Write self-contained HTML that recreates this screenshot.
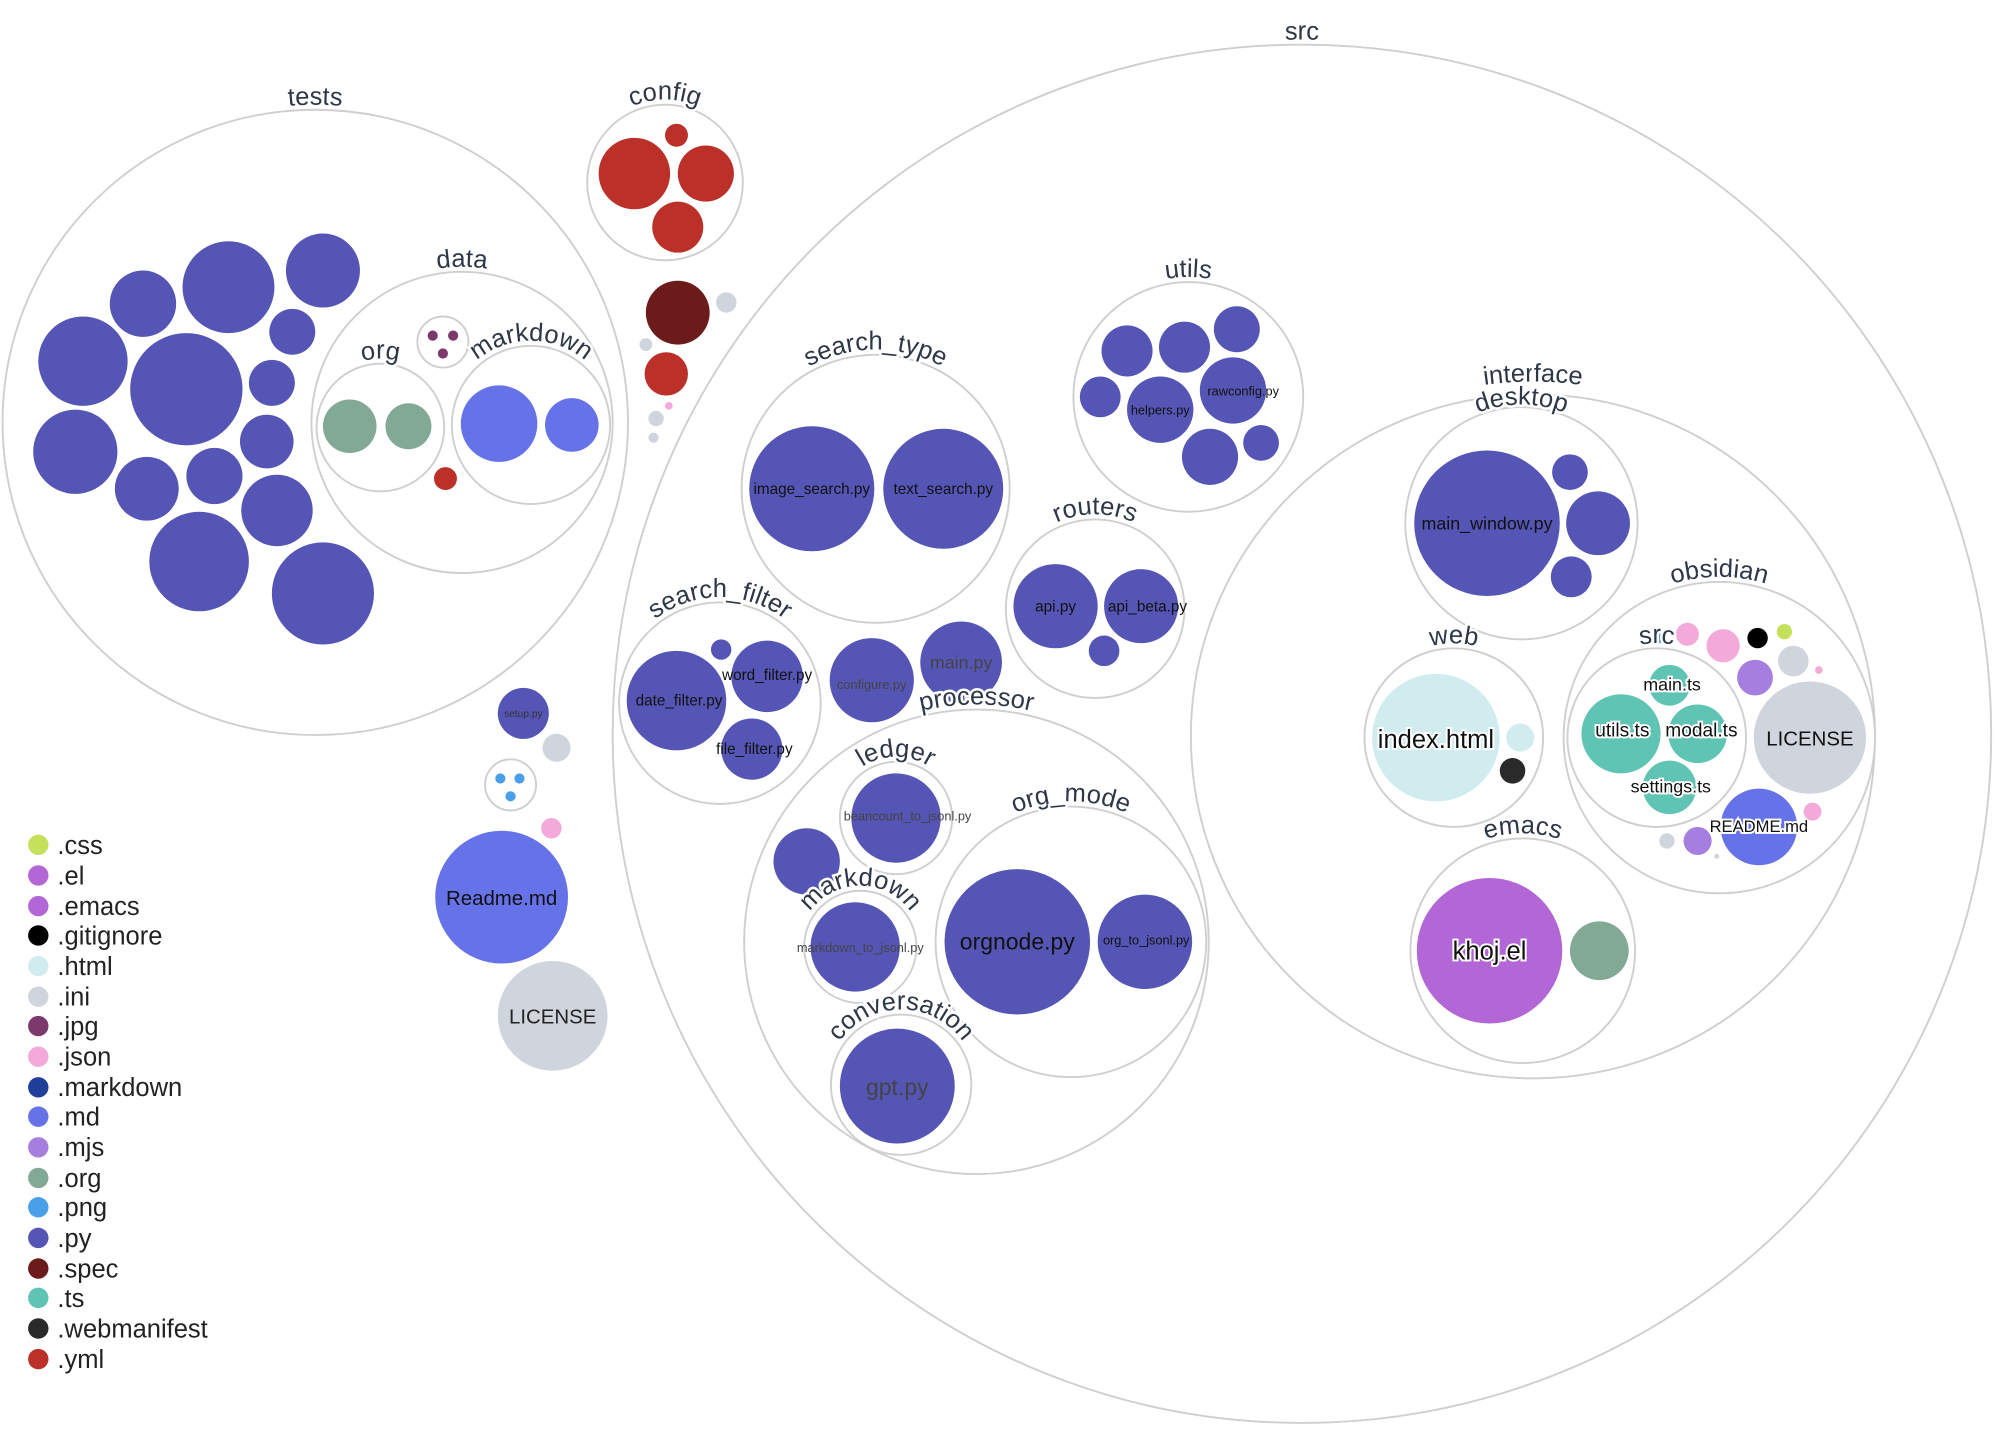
<!DOCTYPE html>
<html><head><meta charset="utf-8"><style>
html,body{margin:0;padding:0;background:#fff;}
svg{display:block;}
text{font-family:"Liberation Sans",sans-serif;}
.o{fill:none;stroke:#cfcfcf;stroke-width:1.5;}
.lab{font-size:20px;fill:#2d3748;stroke:#fff;stroke-width:4;paint-order:stroke;}
.py{fill:#5555b5}.md{fill:#6672e8}.org{fill:#82a896}.yml{fill:#bb3129}.ini{fill:#d0d5dd}.ts{fill:#5fc4b4}
.fl{font-size:12px;fill:#111;text-anchor:middle;}
</style></head><body>
<svg width="1995" height="1451" viewBox="0 0 1563 1137" preserveAspectRatio="none">
<defs>
<path id="a_src" d="M 476,575 A 544,544 0 0 1 1564,575"/>
<path id="a_tests" d="M -2,331 A 249,249 0 0 1 496,331"/>
<path id="a_config" d="M 456,143 A 65,65 0 0 1 586,143"/>
<path id="a_data" d="M 240,331 A 122,122 0 0 1 484,331"/>
<path id="a_org" d="M 244,335 A 54,54 0 0 1 352,335"/>
<path id="a_mdd" d="M 350,333 A 66,66 0 0 1 482,333"/>
<path id="a_st" d="M 577,383 A 109,109 0 0 1 795,383"/>
<path id="a_utils" d="M 837,311 A 94,94 0 0 1 1025,311"/>
<path id="a_routers" d="M 784,477 A 74,74 0 0 1 932,477"/>
<path id="a_sf" d="M 481,551 A 83,83 0 0 1 647,551"/>
<path id="a_proc" d="M 579,738 A 186,186 0 0 1 951,738"/>
<path id="a_ledger" d="M 654,641 A 48,48 0 0 1 750,641"/>
<path id="a_mdp" d="M 626,742 A 48,48 0 0 1 722,742"/>
<path id="a_om" d="M 729,738 A 110,110 0 0 1 949,738"/>
<path id="a_conv" d="M 647,850 A 59,59 0 0 1 765,850"/>
<path id="a_int" d="M 923,577 A 278,278 0 0 1 1479,577"/>
<path id="a_desk" d="M 1099,410 A 93,93 0 0 1 1285,410"/>
<path id="a_web" d="M 1065,578 A 74,74 0 0 1 1213,578"/>
<path id="a_obs" d="M 1221,578 A 126,126 0 0 1 1473,578"/>
<path id="a_osrc" d="M 1224,578 A 74,74 0 0 1 1372,578"/>
<path id="a_emacs" d="M 1101,745 A 92,92 0 0 1 1285,745"/>
</defs>
<circle class="o" cx="1020" cy="575" r="540"/>
<circle class="o" cx="247" cy="331" r="245"/>
<circle class="o" cx="521" cy="143" r="61"/>
<circle class="o" cx="362" cy="331" r="118"/>
<circle class="o" cx="298" cy="335" r="50"/>
<circle class="o" cx="416" cy="333" r="62"/>
<circle class="o" cx="347" cy="268" r="20"/>
<circle class="o" cx="400" cy="615" r="20"/>
<circle class="o" cx="686" cy="383" r="105"/>
<circle class="o" cx="931" cy="311" r="90"/>
<circle class="o" cx="858" cy="477" r="70"/>
<circle class="o" cx="564" cy="551" r="79"/>
<circle class="o" cx="765" cy="738" r="182"/>
<circle class="o" cx="702" cy="641" r="44"/>
<circle class="o" cx="674" cy="742" r="44"/>
<circle class="o" cx="839" cy="738" r="106"/>
<circle class="o" cx="706" cy="850" r="55"/>
<circle class="o" cx="1201" cy="577" r="268"/>
<circle class="o" cx="1192" cy="410" r="91"/>
<circle class="o" cx="1139" cy="578" r="70"/>
<circle class="o" cx="1347" cy="578" r="122"/>
<circle class="o" cx="1298" cy="578" r="70"/>
<circle class="o" cx="1193" cy="745" r="88"/>
<g class="py">
<circle cx="65" cy="283" r="35"/><circle cx="112" cy="238" r="26"/><circle cx="179" cy="225" r="36"/>
<circle cx="253" cy="212" r="29"/><circle cx="229" cy="260" r="18"/><circle cx="146" cy="305" r="44"/>
<circle cx="213" cy="300" r="18"/><circle cx="59" cy="354" r="33"/><circle cx="115" cy="383" r="25"/>
<circle cx="168" cy="373" r="22"/><circle cx="209" cy="346" r="21"/><circle cx="217" cy="400" r="28"/>
<circle cx="156" cy="440" r="39"/><circle cx="253" cy="465" r="40"/>
</g>
<circle class="org" cx="274" cy="334" r="21"/><circle class="org" cx="320" cy="334" r="18"/>
<circle class="md" cx="391" cy="332" r="30"/><circle class="md" cx="448" cy="333" r="21"/>
<g fill="#7b3a6b"><circle cx="339" cy="263" r="4"/><circle cx="355" cy="263" r="4"/><circle cx="347" cy="277" r="4"/></g>
<circle class="yml" cx="349" cy="375" r="9"/>
<circle class="yml" cx="497" cy="136" r="28"/><circle class="yml" cx="553" cy="136" r="22"/>
<circle class="yml" cx="530" cy="106" r="9"/><circle class="yml" cx="531" cy="178" r="20"/>
<circle fill="#6b1b1a" cx="531" cy="245" r="25"/><circle class="ini" cx="569" cy="237" r="8"/>
<circle class="ini" cx="506" cy="270" r="5"/><circle class="yml" cx="522" cy="293" r="17"/>
<circle fill="#f3a9d9" cx="524" cy="318" r="3"/><circle class="ini" cx="514" cy="328" r="6"/><circle class="ini" cx="512" cy="343" r="4"/>
<circle class="py" cx="410" cy="559" r="20"/><text x="410" y="562" class="fl" style="font-size:8px;fill:#333">setup.py</text>
<circle class="ini" cx="436" cy="586" r="11"/>
<g fill="#4aa0e8"><circle cx="392" cy="610" r="4"/><circle cx="407" cy="610" r="4"/><circle cx="400" cy="624" r="4"/></g>
<circle fill="#f3a9d9" cx="432" cy="649" r="8"/>
<circle class="md" cx="393" cy="703" r="52"/><text x="393" y="709" class="fl" style="font-size:16px">Readme.md</text>
<circle class="ini" cx="433" cy="796" r="43"/><text x="433" y="802" class="fl" style="font-size:16px;fill:#222">LICENSE</text>
<circle class="py" cx="636" cy="383" r="49"/><text x="636" y="387" class="fl">image_search.py</text>
<circle class="py" cx="739" cy="383" r="47"/><text x="739" y="387" class="fl">text_search.py</text>
<g class="py"><circle cx="883" cy="275" r="20"/><circle cx="928" cy="272" r="20"/><circle cx="969" cy="258" r="18"/>
<circle cx="862" cy="311" r="16"/><circle cx="909" cy="321" r="26"/><circle cx="966" cy="306" r="26"/>
<circle cx="948" cy="358" r="22"/><circle cx="988" cy="347" r="14"/></g>
<text x="909" y="325" class="fl" style="font-size:10px">helpers.py</text><text x="974" y="310" class="fl" style="font-size:10px">rawconfig.py</text>
<circle class="py" cx="827" cy="475" r="33"/><text x="827" y="479" class="fl">api.py</text>
<circle class="py" cx="894" cy="475" r="29"/><text x="899" y="479" class="fl">api_beta.py</text>
<circle class="py" cx="865" cy="510" r="12"/>
<circle class="py" cx="530" cy="549" r="39"/><text x="532" y="553" class="fl">date_filter.py</text>
<circle class="py" cx="601" cy="530" r="28"/><text x="601" y="533" class="fl">word_filter.py</text>
<circle class="py" cx="589" cy="587" r="24"/><text x="591" y="591" class="fl">file_filter.py</text>
<circle class="py" cx="565" cy="509" r="8"/>
<circle class="py" cx="683" cy="533" r="33"/><text x="683" y="540" class="fl" style="font-size:10px;fill:#444">configure.py</text>
<circle class="py" cx="753" cy="519" r="32"/><text x="753" y="524" class="fl" style="font-size:14px;fill:#444">main.py</text>
<circle class="py" cx="702" cy="641" r="35"/><text x="711" y="643" class="fl" style="font-size:10px;fill:#444">beancount_to_jsonl.py</text>
<circle class="py" cx="632" cy="675" r="26"/>
<circle class="py" cx="670" cy="742" r="35"/><text x="674" y="746" class="fl" style="font-size:10px;fill:#444">markdown_to_jsonl.py</text>
<circle class="py" cx="797" cy="738" r="57"/><text x="797" y="744" class="fl" style="font-size:18px">orgnode.py</text>
<circle class="py" cx="897" cy="738" r="37"/><text x="898" y="740" class="fl" style="font-size:10px">org_to_jsonl.py</text>
<circle class="py" cx="703" cy="851" r="45"/><text x="703" y="858" class="fl" style="font-size:18px;fill:#444">gpt.py</text>
<circle class="py" cx="1165" cy="410" r="57"/><text x="1165" y="415" class="fl" style="font-size:14px">main_window.py</text>
<circle class="py" cx="1230" cy="370" r="14"/><circle class="py" cx="1252" cy="410" r="25"/><circle class="py" cx="1231" cy="452" r="16"/>
<circle fill="#d0ecef" cx="1125" cy="578" r="50"/><text x="1125" y="586" class="fl" style="font-size:20px;stroke:#fff;stroke-width:3;paint-order:stroke">index.html</text>
<circle fill="#d0ecef" cx="1191" cy="578" r="11"/><circle fill="#2a2a2a" cx="1185" cy="604" r="10"/>
<circle class="ts" cx="1308" cy="537" r="16"/><circle class="ts" cx="1270" cy="575" r="31"/>
<circle class="ts" cx="1330" cy="575" r="23"/><circle class="ts" cx="1308" cy="617" r="21"/>
<text x="1310" y="541" class="fl" style="font-size:14px;stroke:#fff;stroke-width:3;paint-order:stroke">main.ts</text>
<text x="1271" y="577" class="fl" style="font-size:15px;stroke:#fff;stroke-width:3;paint-order:stroke">utils.ts</text>
<text x="1333" y="577" class="fl" style="font-size:15px;stroke:#fff;stroke-width:3;paint-order:stroke">modal.ts</text>
<text x="1309" y="621" class="fl" style="font-size:14px;stroke:#fff;stroke-width:3;paint-order:stroke">settings.ts</text>
<circle class="ini" cx="1418" cy="578" r="44"/><text x="1418" y="584" class="fl" style="font-size:16px">LICENSE</text>
<circle class="md" cx="1378" cy="648" r="30"/><text x="1378" y="652" class="fl" style="font-size:13px;stroke:#fff;stroke-width:3;paint-order:stroke">README.md</text>
<circle fill="#4aa0e8" cx="1301" cy="499" r="5"/><circle fill="#f3a9d9" cx="1322" cy="497" r="9"/>
<circle fill="#f3a9d9" cx="1350" cy="506" r="13"/><circle fill="#000" cx="1377" cy="500" r="8"/>
<circle fill="#c5e05a" cx="1398" cy="495" r="6"/><circle class="ini" cx="1405" cy="518" r="12"/>
<circle fill="#a57ee0" cx="1375" cy="531" r="14"/><circle fill="#f3a9d9" cx="1425" cy="525" r="3"/>
<circle fill="#f3a9d9" cx="1420" cy="636" r="7"/><circle fill="#a57ee0" cx="1330" cy="659" r="11"/>
<circle class="ini" cx="1306" cy="659" r="6"/><circle class="ini" cx="1345" cy="671" r="2"/>
<circle fill="#b366d6" cx="1167" cy="745" r="57"/><text x="1167" y="752" class="fl" style="font-size:20px;stroke:#fff;stroke-width:3;paint-order:stroke">khoj.el</text>
<circle class="org" cx="1253" cy="745" r="23"/>
<g class="lab">
<text><textPath href="#a_src" startOffset="50%" text-anchor="middle">src</textPath></text>
<text><textPath href="#a_tests" startOffset="50%" text-anchor="middle">tests</textPath></text>
<text><textPath href="#a_config" startOffset="50%" text-anchor="middle">config</textPath></text>
<text><textPath href="#a_data" startOffset="50%" text-anchor="middle">data</textPath></text>
<text><textPath href="#a_org" startOffset="50%" text-anchor="middle">org</textPath></text>
<text><textPath href="#a_mdd" startOffset="50%" text-anchor="middle">markdown</textPath></text>
<text><textPath href="#a_st" startOffset="50%" text-anchor="middle">search_type</textPath></text>
<text><textPath href="#a_utils" startOffset="50%" text-anchor="middle">utils</textPath></text>
<text><textPath href="#a_routers" startOffset="50%" text-anchor="middle">routers</textPath></text>
<text><textPath href="#a_sf" startOffset="50%" text-anchor="middle">search_filter</textPath></text>
<text><textPath href="#a_proc" startOffset="50%" text-anchor="middle">processor</textPath></text>
<text><textPath href="#a_ledger" startOffset="50%" text-anchor="middle">ledger</textPath></text>
<text><textPath href="#a_mdp" startOffset="50%" text-anchor="middle">markdown</textPath></text>
<text><textPath href="#a_om" startOffset="50%" text-anchor="middle">org_mode</textPath></text>
<text><textPath href="#a_conv" startOffset="50%" text-anchor="middle">conversation</textPath></text>
<text><textPath href="#a_int" startOffset="50%" text-anchor="middle">interface</textPath></text>
<text><textPath href="#a_desk" startOffset="50%" text-anchor="middle">desktop</textPath></text>
<text><textPath href="#a_web" startOffset="50%" text-anchor="middle">web</textPath></text>
<text><textPath href="#a_obs" startOffset="50%" text-anchor="middle">obsidian</textPath></text>
<text><textPath href="#a_osrc" startOffset="50%" text-anchor="middle">src</textPath></text>
<text><textPath href="#a_emacs" startOffset="50%" text-anchor="middle">emacs</textPath></text>
</g>
<g style="font-size:20px;fill:#222">
<circle cx="30" cy="662" r="8" fill="#c5e05a"/><text x="45" y="669">.css</text>
<circle cx="30" cy="686" r="8" fill="#b366d6"/><text x="45" y="693">.el</text>
<circle cx="30" cy="710" r="8" fill="#b366d6"/><text x="45" y="717">.emacs</text>
<circle cx="30" cy="733" r="8" fill="#000"/><text x="45" y="740">.gitignore</text>
<circle cx="30" cy="757" r="8" fill="#d0ecef"/><text x="45" y="764">.html</text>
<circle cx="30" cy="781" r="8" fill="#d0d5dd"/><text x="45" y="788">.ini</text>
<circle cx="30" cy="804" r="8" fill="#7b3a6b"/><text x="45" y="811">.jpg</text>
<circle cx="30" cy="828" r="8" fill="#f3a9d9"/><text x="45" y="835">.json</text>
<circle cx="30" cy="852" r="8" fill="#1f3f9a"/><text x="45" y="859">.markdown</text>
<circle cx="30" cy="875" r="8" fill="#6672e8"/><text x="45" y="882">.md</text>
<circle cx="30" cy="899" r="8" fill="#a57ee0"/><text x="45" y="906">.mjs</text>
<circle cx="30" cy="923" r="8" fill="#82a896"/><text x="45" y="930">.org</text>
<circle cx="30" cy="946" r="8" fill="#4aa0e8"/><text x="45" y="953">.png</text>
<circle cx="30" cy="970" r="8" fill="#5555b5"/><text x="45" y="977">.py</text>
<circle cx="30" cy="994" r="8" fill="#6b1b1a"/><text x="45" y="1001">.spec</text>
<circle cx="30" cy="1017" r="8" fill="#5fc4b4"/><text x="45" y="1024">.ts</text>
<circle cx="30" cy="1041" r="8" fill="#2a2a2a"/><text x="45" y="1048">.webmanifest</text>
<circle cx="30" cy="1065" r="8" fill="#bb3129"/><text x="45" y="1072">.yml</text>
</g>
</svg>
</body></html>
